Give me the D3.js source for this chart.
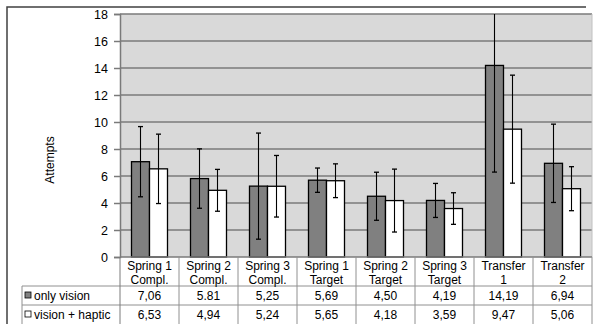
<!DOCTYPE html>
<html><head><meta charset="utf-8">
<script src="https://cdn.jsdelivr.net/npm/d3@7"></script>
<style>body{margin:0;background:#fff}svg{display:block}text{font-family:"Liberation Sans",Arial,sans-serif;}</style>
</head><body><svg id="c" width="595" height="324"></svg>
<script>
const categories = [["Spring 1","Compl."],["Spring 2","Compl."],["Spring 3","Compl."],["Spring 1","Target"],["Spring 2","Target"],["Spring 3","Target"],["Transfer","1"],["Transfer","2"]];
const seriesNames = ["only vision","vision + haptic"];
const onlyVision = [7.06,5.81,5.25,5.69,4.50,4.19,14.19,6.94];
const visionHaptic = [6.53,4.94,5.24,5.65,4.18,3.59,9.47,5.06];
const onlyVisionLabels = ["7,06","5.81","5,25","5,69","4,50","4,19","14,19","6,94"];
const visionHapticLabels = ["6,53","4,94","5,24","5,65","4,18","3,59","9,47","5,06"];
const onlyVisionErr = [2.6,2.2,3.93,0.9,1.78,1.26,7.9,2.9];
const visionHapticErr = [2.57,1.55,2.28,1.25,2.33,1.17,4.0,1.63];
const yTicks = [0,2,4,6,8,10,12,14,16,18];

const svg = d3.select("#c");
const L=120, R=592, T=14, B=257;
const y = d3.scaleLinear().domain([0,18]).range([B,T]);
const x = d3.scaleBand().domain(d3.range(categories.length)).range([L,R]);
const xs = d3.scaleBand().domain([0,1]).range([0,36]);
const barOff = (x.bandwidth()-36)/2;
const series = [
  {vals:onlyVision, err:onlyVisionErr, labels:onlyVisionLabels, fill:"#808080"},
  {vals:visionHaptic, err:visionHapticErr, labels:visionHapticLabels, fill:"#ffffff"}
];

// frame
svg.append("path").attr("d","M7,324 V7 H586").attr("fill","none").attr("stroke","#404040").attr("stroke-width",1.5);
// plot bg
svg.append("rect").attr("x",L).attr("y",T).attr("width",R-L).attr("height",B-T).attr("fill","#d9d9d9");
// gridlines
svg.append("g").selectAll("line").data(yTicks.filter(d=>d>0)).join("line")
  .attr("x1",L).attr("x2",R).attr("y1",d=>y(d)).attr("y2",d=>y(d))
  .attr("stroke","#7a7a7a").attr("stroke-width",1.5);
svg.append("line").attr("x1",R).attr("x2",R).attr("y1",T).attr("y2",B).attr("stroke","#c0c0c0");

// axis
const ax = svg.append("g").attr("transform",`translate(${L},0)`)
  .call(d3.axisLeft(y).tickValues(yTicks).tickSize(6).tickPadding(6).tickFormat(d3.format("d")));
ax.select(".domain").attr("stroke","#7a7a7a").attr("stroke-width",1.5);
ax.selectAll(".tick line").attr("stroke","#7a7a7a").attr("stroke-width",1.5);
ax.selectAll(".tick text").attr("font-size",12.5).attr("fill","#000").attr("font-family","Liberation Sans, Arial, sans-serif");

svg.append("text").attr("transform","translate(54,160) rotate(-90)").attr("text-anchor","middle")
  .attr("font-size",12).text("Attempts");

// bars
series.forEach((s,si)=>{
  const g = svg.append("g");
  g.selectAll("rect").data(s.vals).join("rect")
    .attr("x",(d,i)=>x(i)+barOff+xs(si)).attr("width",xs.bandwidth())
    .attr("y",d=>y(d)).attr("height",d=>B-y(d))
    .attr("fill",s.fill).attr("stroke","#000").attr("stroke-width",1.3);
});
// error bars
series.forEach((s,si)=>{
  const g = svg.append("g");
  s.vals.forEach((v,i)=>{
    const cx = x(i)+barOff+xs(si)+xs.bandwidth()/2;
    const hi = Math.min(v+s.err[i],18), lo = v-s.err[i];
    g.append("line").attr("x1",cx).attr("x2",cx).attr("y1",y(hi)).attr("y2",y(lo)).attr("stroke","#000").attr("stroke-width",1.1);
    if (v+s.err[i] <= 18) g.append("line").attr("x1",cx-2.5).attr("x2",cx+2.5).attr("y1",y(hi)).attr("y2",y(hi)).attr("stroke","#000").attr("stroke-width",1.3);
    g.append("line").attr("x1",cx-2.5).attr("x2",cx+2.5).attr("y1",y(lo)).attr("y2",y(lo)).attr("stroke","#000").attr("stroke-width",1.3);
  });
});

// table
const tg = svg.append("g");
const lineC = "#909090";
tg.append("line").attr("x1",L).attr("x2",R).attr("y1",B).attr("y2",B).attr("stroke","#7a7a7a").attr("stroke-width",1.5);
[286,305].forEach(yy=>tg.append("line").attr("x1",22).attr("x2",R).attr("y1",yy).attr("y2",yy).attr("stroke",lineC));
tg.append("line").attr("x1",22).attr("x2",22).attr("y1",286).attr("y2",324).attr("stroke",lineC);
d3.range(categories.length+1).forEach(i=>{
  const xx = i<categories.length ? x(i) : R;
  tg.append("line").attr("x1",xx).attr("x2",xx).attr("y1",B).attr("y2",324).attr("stroke",i===0?"#7a7a7a":lineC);
});
const fs = 12;
categories.forEach((c,i)=>{
  const cx = x(i)+x.bandwidth()/2;
  tg.append("text").attr("x",cx).attr("y",270).attr("text-anchor","middle").attr("font-size",fs).text(c[0]);
  tg.append("text").attr("x",cx).attr("y",284).attr("text-anchor","middle").attr("font-size",fs).text(c[1]);
  tg.append("text").attr("x",cx).attr("y",300).attr("text-anchor","middle").attr("font-size",fs).text(series[0].labels[i]);
  tg.append("text").attr("x",cx).attr("y",319).attr("text-anchor","middle").attr("font-size",fs).text(series[1].labels[i]);
});
seriesNames.forEach((n,i)=>{
  const yy = i===0?295.5:314.5;
  tg.append("rect").attr("x",25).attr("y",yy-3.5).attr("width",6).attr("height",6).attr("fill",series[i].fill).attr("stroke","#000").attr("stroke-width",0.8);
  tg.append("text").attr("x",34).attr("y",yy+4).attr("font-size",fs).text(n);
});
</script></body></html>
